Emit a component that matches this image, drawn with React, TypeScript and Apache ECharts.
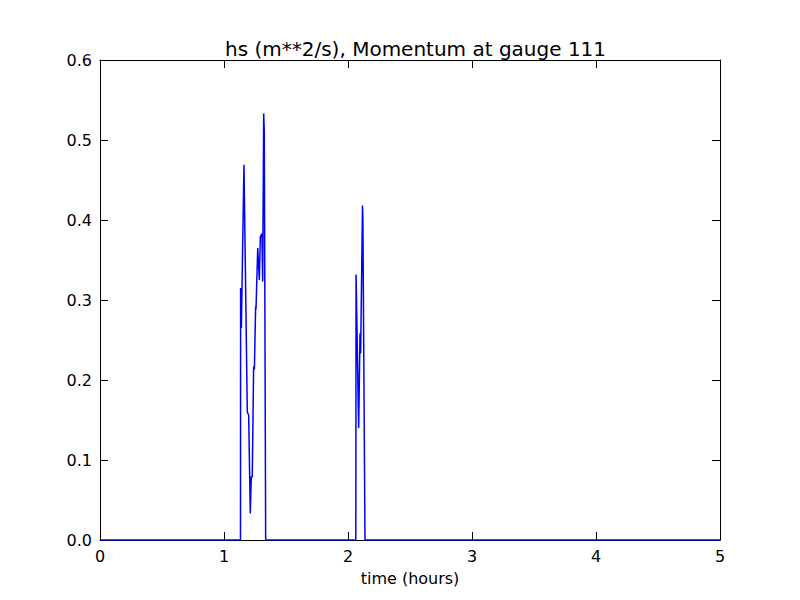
import React, { useEffect, useRef } from "react";
import * as echarts from "echarts";

const times: number[] = [
  0, 1.133, 1.134, 1.136, 1.14, 1.161, 1.188, 1.199, 1.212, 1.22, 1.228, 1.239, 1.245,
  1.255, 1.258, 1.272, 1.285, 1.293, 1.306, 1.312, 1.32, 1.325, 1.336,
  2.063, 2.065, 2.086, 2.097, 2.102, 2.117, 2.12, 2.137, 5,
];
const values: number[] = [
  0, 0, 0.315, 0.3, 0.265, 0.469, 0.16, 0.156, 0.033, 0.079, 0.079, 0.217, 0.213,
  0.292, 0.288, 0.365, 0.325, 0.379, 0.383, 0.323, 0.533, 0.51, 0,
  0, 0.332, 0.14, 0.258, 0.233, 0.418, 0.4, 0, 0,
];
const titleText = "hs (m**2/s), Momentum at gauge 111";
const xName = "time (hours)";

export default function App() {
  const ref = useRef<HTMLDivElement>(null);
  useEffect(() => {
    if (!ref.current) return;
    const chart = echarts.init(ref.current, undefined, { renderer: "svg" });
    const font = "DejaVu Sans";
    const tick = { show: true, inside: true, length: 8, lineStyle: { color: "#000", width: 1 } };
    const line = { show: true, onZero: false, lineStyle: { color: "#000", width: 1 } };
    chart.setOption({
      animation: false,
      backgroundColor: "#fff",
      title: {
        text: titleText,
        left: 220,
        top: 34,
        textStyle: { fontFamily: font, fontSize: 20, fontWeight: "normal", color: "#000" },
      },
      grid: { left: 100, right: 80, top: 60, bottom: 60, containLabel: false },
      xAxis: [
        {
          type: "value",
          min: 0,
          max: 5,
          interval: 1,
          position: "bottom",
          name: xName,
          nameLocation: "middle",
          nameGap: 30,
          nameTextStyle: { fontFamily: font, fontSize: 16, color: "#000" },
          axisLine: line,
          axisTick: tick,
          splitLine: { show: false },
          axisLabel: { fontFamily: font, fontSize: 16, color: "#000", margin: 8 },
        },
        {
          type: "value",
          min: 0,
          max: 5,
          interval: 1,
          position: "top",
          axisLine: line,
          axisTick: tick,
          splitLine: { show: false },
          axisLabel: { show: false },
        },
      ],
      yAxis: [
        {
          type: "value",
          min: 0,
          max: 0.6,
          interval: 0.1,
          position: "left",
          axisLine: line,
          axisTick: tick,
          splitLine: { show: false },
          axisLabel: {
            fontFamily: font,
            fontSize: 16,
            color: "#000",
            margin: 8,
            formatter: (v: number) => v.toFixed(1),
          },
        },
        {
          type: "value",
          min: 0,
          max: 0.6,
          interval: 0.1,
          position: "right",
          axisLine: line,
          axisTick: tick,
          splitLine: { show: false },
          axisLabel: { show: false },
        },
      ],
      series: [
        {
          type: "line",
          xAxisIndex: 0,
          yAxisIndex: 0,
          data: times.map((t, i) => [t, values[i]]),
          showSymbol: false,
          symbol: "none",
          lineStyle: { color: "#0000ff", width: 1.5 },
          z: 1,
        },
      ],
    });
    return () => chart.dispose();
  }, []);
  return <div ref={ref} style={{ width: 800, height: 600, position: "absolute", left: 0, top: 0 }} />;
}
